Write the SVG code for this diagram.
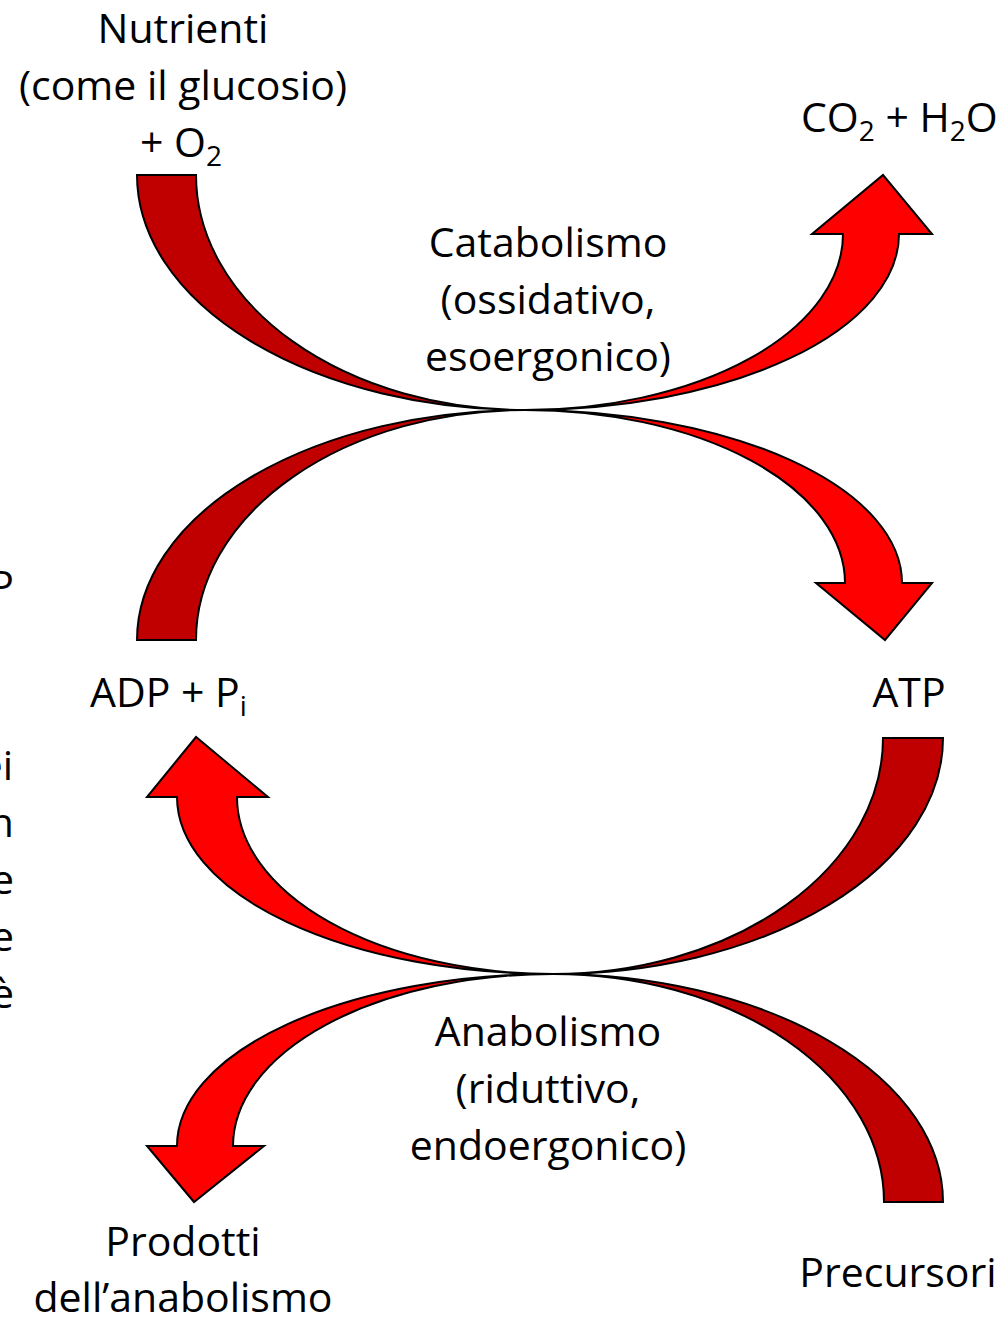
<svg xmlns="http://www.w3.org/2000/svg" width="1005" height="1318" viewBox="0 0 1005 1318">
<style>
text{font-family:"Open Sans","Noto Sans","Liberation Sans",sans-serif;font-size:41px;fill:#000}
.c{text-anchor:middle}
.e{text-anchor:end}
.sub{font-size:28px}
.dark{fill:#C00000;stroke:#000;stroke-width:2;stroke-linejoin:miter}
.bright{fill:#FF0000;stroke:#000;stroke-width:2;stroke-linejoin:miter}
</style>
<rect width="1005" height="1318" fill="#fff"/>
<g id="connectors">
<path id="cat-in" class="dark" d="M137,175 L196,175 A329,235 0 0 0 525,410 A388,235 0 0 1 137,175 Z"/>
<path id="cat-out" class="bright" d="M525,410 A374,176 0 0 0 899,234 L932,234 L883,175 L812,234 L843,234 A318,176 0 0 1 525,410 Z"/>
<path id="adp-in" class="dark" d="M137,640 A388,230 0 0 1 525,410 A329,230 0 0 0 196,640 Z"/>
<path id="atp-out" class="bright" d="M525,410 A377,173 0 0 1 902,583 L932,583 L885,640 L816,583 L845,583 A320,173 0 0 0 525,410 Z"/>
<path id="atp-in" class="dark" d="M883,738 L943,738 A390,236 0 0 1 553,974 A330,236 0 0 0 883,738 Z"/>
<path id="adp-out" class="bright" d="M553,974 A376,177 0 0 1 177,797 L147,797 L196,737 L268,797 L237,797 A316,177 0 0 0 553,974 Z"/>
<path id="prec-in" class="dark" d="M884,1202 L943,1202 A390,228 0 0 0 553,974 A331,228 0 0 1 884,1202 Z"/>
<path id="prod-out" class="bright" d="M553,974 A376,172 0 0 0 177,1146 L147,1146 L194,1202 L264,1146 L233,1146 A320,172 0 0 1 553,974 Z"/>
</g>
<g id="nutrienti">
<text class="c" x="183" y="43">Nutrienti</text>
<text class="c" x="183" y="100">(come il glucosio)</text>
<text x="140" y="157">+ O<tspan class="sub" dy="9">2</tspan></text>
</g>
<g id="co2-h2o">
<text x="801" y="132">CO<tspan class="sub" dy="9">2</tspan><tspan dy="-9"> + H</tspan><tspan class="sub" dy="9">2</tspan><tspan dy="-9">O</tspan></text>
</g>
<g id="catabolismo">
<text class="c" x="548" y="257">Catabolismo</text>
<text class="c" x="548" y="314">(ossidativo,</text>
<text class="c" x="548" y="371">esoergonico)</text>
</g>
<g id="adp">
<text x="90" y="707">ADP + P<tspan class="sub" dy="9">i</tspan></text>
</g>
<g id="atp">
<text class="c" x="909" y="707">ATP</text>
</g>
<g id="anabolismo">
<text class="c" x="548" y="1046">Anabolismo</text>
<text class="c" x="548" y="1103">(riduttivo,</text>
<text class="c" x="548" y="1160">endoergonico)</text>
</g>
<g id="prodotti">
<text class="c" x="183" y="1256">Prodotti</text>
<text class="c" x="183" y="1312">dell’anabolismo</text>
</g>
<g id="precursori">
<text class="c" x="898" y="1287">Precursori</text>
</g>
<g id="clipped-text">
<text class="e" x="14" y="600">P</text>
<text class="e" x="13" y="780">ei</text>
<text class="e" x="14" y="837">n</text>
<text class="e" x="14" y="894">e</text>
<text class="e" x="14" y="951">e</text>
<text class="e" x="14" y="1008">è</text>
</g>
</svg>
